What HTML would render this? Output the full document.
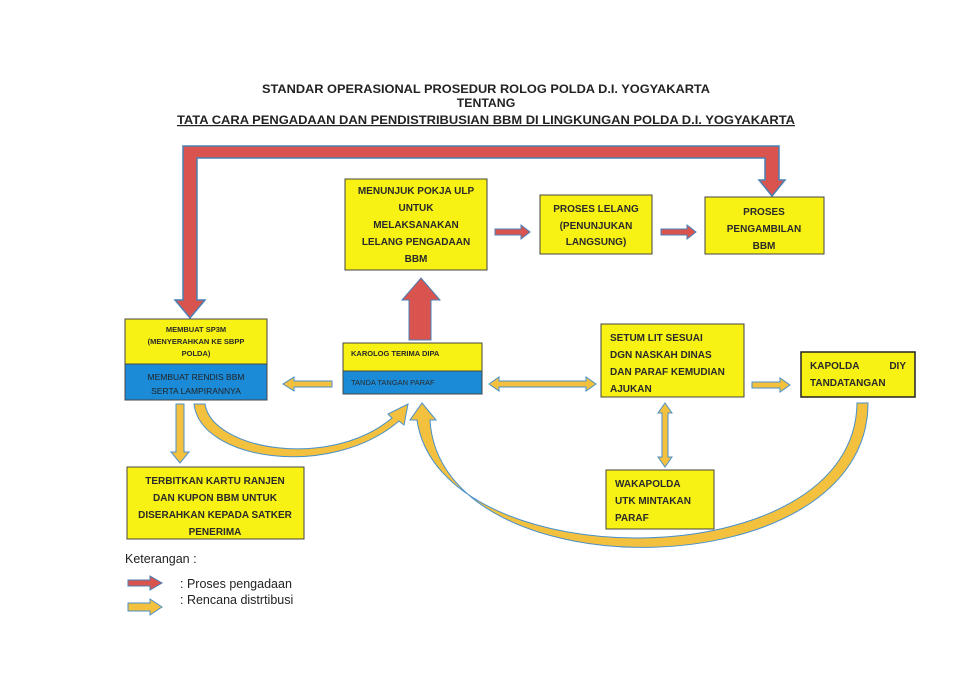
<!DOCTYPE html>
<html><head><meta charset="utf-8"><style>
body{margin:0;background:#fff;}
svg{display:block;}
.t{font-family:"Liberation Sans",sans-serif;font-weight:bold;fill:#222;}
.b{font-family:"Liberation Sans",sans-serif;font-weight:bold;fill:#2a2a2a;}
</style></head><body>
<svg width="966" height="695" viewBox="0 0 966 695" xmlns="http://www.w3.org/2000/svg">
<rect width="966" height="695" fill="#fff"/>
<g class="t" font-size="12.3" text-anchor="middle">
<text x="486" y="93" textLength="448" lengthAdjust="spacingAndGlyphs">STANDAR OPERASIONAL PROSEDUR ROLOG POLDA D.I. YOGYAKARTA</text>
<text x="486" y="107">TENTANG</text>
<text x="486" y="124" text-decoration="underline" textLength="618" lengthAdjust="spacingAndGlyphs">TATA CARA PENGADAAN DAN PENDISTRIBUSIAN  BBM DI LINGKUNGAN POLDA D.I. YOGYAKARTA</text>
</g>
<!-- big red frame arrow -->
<path d="M183 146 H779 V180 H785 L772 196 L759 180 H765 V158 H197 V300 H205 L190 318 L175 300 H183 Z" fill="#d9534f" stroke="#4a80b4" stroke-width="1.5"/>
<!-- big arc (behind boxes) -->
<path d="M857 403 H868 C868 590 440 595 430 420 L436 420 L422 403 L410 420 L417 420 C440 580 855 580 857 403 Z" fill="#f4c13e" stroke="#4a90c8" stroke-width="1"/>
<!-- boxes -->
<g stroke="#444" stroke-width="1">
<rect x="345" y="179" width="142" height="91" fill="#f7f214"/>
<rect x="540" y="195" width="112" height="59" fill="#f7f214"/>
<rect x="705" y="197" width="119" height="57" fill="#f7f214"/>
<rect x="125" y="319" width="142" height="45" fill="#f7f214"/>
<rect x="125" y="364" width="142" height="36" fill="#1b8bd8"/>
<rect x="343" y="343" width="139" height="28" fill="#f7f214"/>
<rect x="343" y="371" width="139" height="23" fill="#1b8bd8"/>
<rect x="601" y="324" width="143" height="73" fill="#f7f214"/>
<rect x="801" y="352" width="114" height="45" fill="#f7f214" stroke="#222" stroke-width="1.5"/>
<rect x="606" y="470" width="108" height="59" fill="#f7f214"/>
<rect x="127" y="467" width="177" height="72" fill="#f7f214"/>
</g>
<!-- red small arrows -->
<g fill="#d9534f" stroke="#4a80b4" stroke-width="1">
<path d="M495 229 H521 V225 L530 232 L521 239 V235 H495 Z"/>
<path d="M661 229 H687 V225 L696 232 L687 239 V235 H661 Z"/>
<path d="M409 340 V300 H402 L421 278 L440 300 H431 V340 Z"/>
<path d="M128 580 H150 V576 L162 583 L150 590 V586 H128 Z"/>
</g>
<!-- yellow arrows -->
<g fill="#f4c13e" stroke="#4a90c8" stroke-width="1">
<path d="M332 381 H294 V377 L283 384 L294 391 V387 H332 Z"/>
<path d="M489 384 L499 377 V381 H586 V377 L596 384 L586 391 V387 H499 V391 Z"/>
<path d="M752 382 H780 V378 L790 385 L780 392 V388 H752 Z"/>
<path d="M665 403 L672 413 H668 V457 H672 L665 467 L658 457 H662 V413 H658 Z"/>
<path d="M176 404 H184 V452 H189 L180 463 L171 452 H176 Z"/>
<path d="M128 603 H150 V599 L162 607 L150 615 V611 H128 Z"/>
<path d="M194 404 H205 C212 450 330 470 392 418 L388 414 L408 404 L404 425 L399 421 C330 480 200 460 194 404 Z"/>
</g>
<!-- box text -->
<g class="b" text-anchor="middle">
<g font-size="10">
<text x="416" y="194">MENUNJUK POKJA ULP</text>
<text x="416" y="211">UNTUK</text>
<text x="416" y="228">MELAKSANAKAN</text>
<text x="416" y="245">LELANG PENGADAAN</text>
<text x="416" y="262">BBM</text>
<text x="596" y="212">PROSES LELANG</text>
<text x="596" y="229">(PENUNJUKAN</text>
<text x="596" y="245">LANGSUNG)</text>
<text x="764" y="215">PROSES</text>
<text x="764" y="232">PENGAMBILAN</text>
<text x="764" y="249">BBM</text>
</g>
<g font-size="7.5">
<text x="196" y="332">MEMBUAT SP3M</text>
<text x="196" y="344">(MENYERAHKAN KE SBPP</text>
<text x="196" y="356">POLDA)</text>
</g>
<g font-size="8.5" style="font-weight:normal" fill="#222">
<text x="196" y="380">MEMBUAT RENDIS BBM</text>
<text x="196" y="394">SERTA LAMPIRANNYA</text>
</g>
<g font-size="10">
<text x="215" y="484">TERBITKAN KARTU RANJEN</text>
<text x="215" y="501">DAN KUPON  BBM UNTUK</text>
<text x="215" y="518">DISERAHKAN KEPADA SATKER</text>
<text x="215" y="535">PENERIMA</text>
</g>
</g>
<g class="b" font-size="7.5">
<text x="351" y="356">KAROLOG TERIMA DIPA</text>
<text x="351" y="385" style="font-weight:normal">TANDA TANGAN PARAF</text>
</g>
<g class="b" font-size="10">
<text x="610" y="341">SETUM  LIT  SESUAI</text>
<text x="610" y="358">DGN NASKAH DINAS</text>
<text x="610" y="375">DAN  PARAF KEMUDIAN</text>
<text x="610" y="392">AJUKAN</text>
<text x="810" y="369">KAPOLDA</text>
<text x="906" y="369" text-anchor="end">DIY</text>
<text x="810" y="386">TANDATANGAN</text>
<text x="615" y="487">WAKAPOLDA</text>
<text x="615" y="504">UTK MINTAKAN</text>
<text x="615" y="521">PARAF</text>
</g>
<g font-family="Liberation Sans, sans-serif" font-size="12.5" fill="#222">
<text x="125" y="563">Keterangan :</text>
<text x="180" y="588">: Proses  pengadaan</text>
<text x="180" y="604">: Rencana distrtibusi</text>
</g>
</svg>
</body></html>
